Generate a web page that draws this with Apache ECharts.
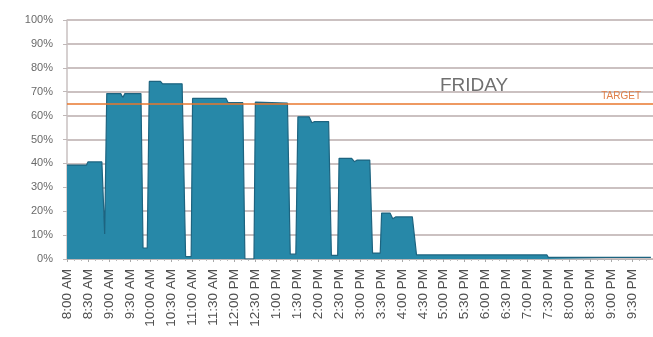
<!DOCTYPE html>
<html>
<head>
<meta charset="utf-8">
<script src="https://cdn.jsdelivr.net/npm/echarts@6/dist/echarts.min.js"></script>
<style>
  html, body { margin: 0; padding: 0; background: #fff; }
  #chart { width: 653px; height: 337px; }
</style>
</head>
<body>
<div id="chart"></div>
<script>
  // minutes after 8:00 AM
  var minutes = [0, 28, 30, 50, 54, 57, 77, 80, 83, 106, 109, 115, 118, 134, 137, 165, 170, 178, 180, 228, 231, 252, 255, 268, 270, 316, 320, 328, 331, 347, 351, 355, 375, 379, 388, 390, 408, 412, 416, 434, 438, 449, 451, 463, 467, 471, 495, 501, 688, 690, 837]
  // utilisation in %
  var utilisation = [39.3, 39.3, 40.6, 40.6, 10.5, 69.2, 69.2, 67.6, 69.2, 69.2, 4.6, 4.6, 74.3, 74.3, 73.3, 73.3, 1, 1, 67.2, 67.2, 65.4, 65.4, 0, 0, 65.6, 65.2, 2, 2, 59.5, 59.5, 57, 57.5, 57.5, 1.5, 1.5, 42.1, 42.1, 40.7, 41.4, 41.4, 2.5, 2.5, 19.2, 19.2, 16.8, 17.6, 17.6, 1.7, 1.7, 0.7, 0.7]
  var tickLabels = ['8:00 AM', '8:30 AM', '9:00 AM', '9:30 AM', '10:00 AM', '10:30 AM', '11:00 AM', '11:30 AM',
    '12:00 PM', '12:30 PM', '1:00 PM', '1:30 PM', '2:00 PM', '2:30 PM', '3:00 PM', '3:30 PM', '4:00 PM',
    '4:30 PM', '5:00 PM', '5:30 PM', '6:00 PM', '6:30 PM', '7:00 PM', '7:30 PM', '8:00 PM', '8:30 PM',
    '9:00 PM', '9:30 PM']
  var target = 65

  var points = minutes.map(function (m, i) { return [m, utilisation[i]] })

  var myChart = echarts.init(document.getElementById('chart'))
  myChart.setOption({
    animation: false,
    textStyle: { fontFamily: 'Liberation Sans' },
    grid: { left: 67, top: 20, width: 587, height: 239 },
    graphic: [
      {
        type: 'text',
        left: 440,
        top: 76,
        style: { text: 'FRIDAY', fill: '#707070', fontSize: 19, fontFamily: 'Liberation Sans' }
      }
    ],
    xAxis: {
      type: 'value',
      min: 0,
      max: 840,
      interval: 30,
      axisLine: { show: true, lineStyle: { color: '#bdb5b5', width: 1 } },
      axisTick: { show: true, length: 3, lineStyle: { color: '#aaa' } },
      minorTick: { show: true, splitNumber: 3, length: 2, lineStyle: { color: '#bbb' } },
      splitLine: { show: false },
      axisLabel: {
        rotate: 90,
        fontSize: 13.5,
        color: '#505050',
        margin: 10,
        formatter: function (v) { return tickLabels[Math.round(v / 30)] || '' }
      }
    },
    yAxis: {
      type: 'value',
      min: 0,
      max: 100,
      interval: 10,
      axisLine: { show: true, lineStyle: { color: '#c8c0c0', width: 1.5 } },
      axisTick: { show: true, length: 4, lineStyle: { color: '#c0b8b8' } },
      splitLine: { lineStyle: { color: '#cbc1c1', width: 2 } },
      axisLabel: { fontSize: 11, color: '#6a6a6a', margin: 14, formatter: '{value}%' }
    },
    series: [
      {
        type: 'line',
        data: points,
        symbol: 'none',
        lineStyle: { color: '#1d6480', width: 1.2 },
        areaStyle: { color: '#2788a8', opacity: 1 },
        markLine: {
          silent: true,
          symbol: 'none',
          lineStyle: { color: '#e8772e', width: 1.5, type: 'solid' },
          label: {
            show: true,
            position: 'insideEndTop',
            formatter: 'TARGET',
            color: '#e0804a',
            fontSize: 10,
            distance: [12, 2]
          },
          data: [{ yAxis: target }]
        }
      }
    ]
  })
</script>
</body>
</html>
